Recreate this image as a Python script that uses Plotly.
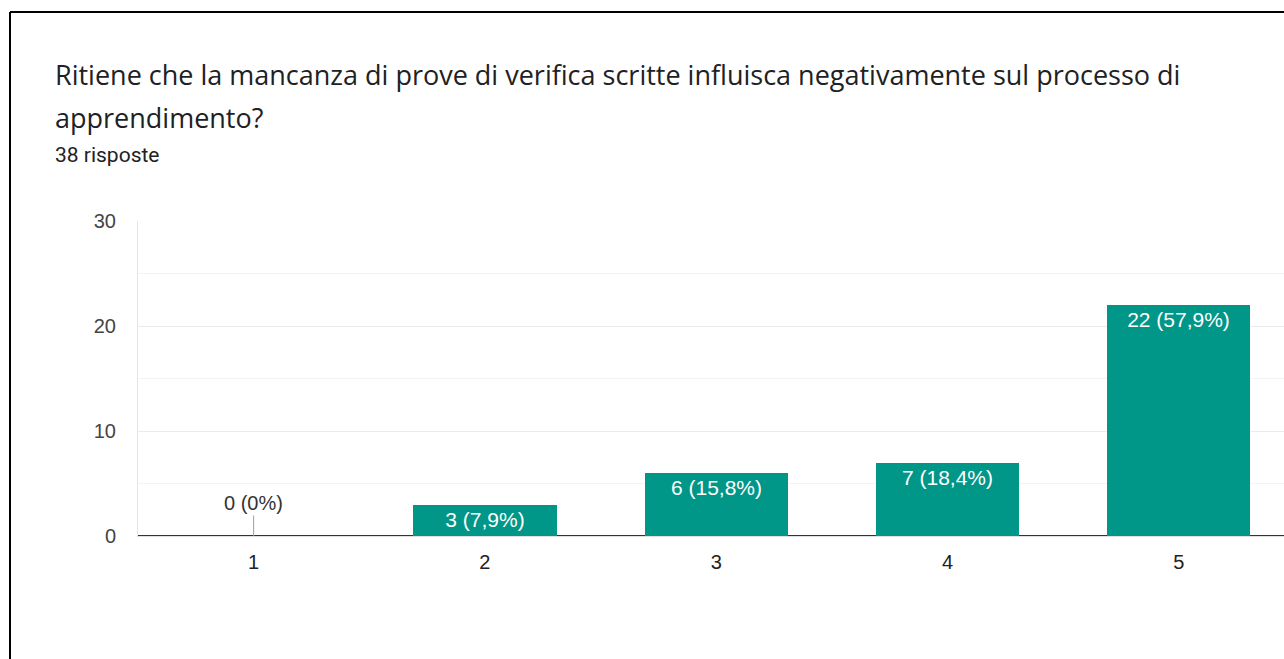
import plotly.graph_objects as go

categories = [1, 2, 3, 4, 5]
counts = [0, 3, 6, 7, 22]
total = 38
title_line1 = "Ritiene che la mancanza di prove di verifica scritte influisca negativamente sul processo di"
title_line2 = "apprendimento?"
subtitle = "38 risposte"
y_ticks = [0, 10, 20, 30]

W, H = 1284, 659
TITLE_FONT = "Open Sans, Roboto, sans-serif"
FONT = "Liberation Sans, Arial, sans-serif"
SUB_FONT = "Roboto, Arial, sans-serif"
BAR = "#009688"


def label(v):
    p = round(v / total * 100, 1)
    s = ("%d" % p) if p == int(p) else ("%.1f" % p).replace(".", ",")
    return f"{v} ({s}%)"


texts = [label(v) if v > 0 else "" for v in counts]

fig = go.Figure()
fig.add_trace(go.Bar(
    x=categories, y=counts, width=0.62,
    marker=dict(color=BAR, line=dict(width=0)),
    text=texts, textposition="inside", insidetextanchor="end",
    textangle=0, constraintext="none",
    textfont=dict(color="white", size=21, family=FONT),
    hoverinfo="skip",
))

annotations = []
for c, v in zip(categories, counts):
    if v == 0:
        annotations.append(dict(
            x=c, y=v, xref="x", yref="y", text=label(v),
            showarrow=True, arrowhead=0, arrowwidth=1, arrowcolor="#9e9e9e",
            ax=0, ay=-33, standoff=0, startstandoff=0,
            font=dict(size=20, color="#333333", family=FONT),
        ))

annotations += [
    dict(x=53 / W, y=1 - 75 / H, xref="paper", yref="paper", xanchor="left", yanchor="middle",
         text=title_line1, showarrow=False, font=dict(size=27, color="#202124", family=TITLE_FONT)),
    dict(x=53 / W, y=1 - 117 / H, xref="paper", yref="paper", xanchor="left", yanchor="middle",
         text=title_line2, showarrow=False, font=dict(size=27, color="#202124", family=TITLE_FONT)),
    dict(x=53 / W, y=1 - 155 / H, xref="paper", yref="paper", xanchor="left", yanchor="middle",
         text=subtitle, showarrow=False, font=dict(size=21, color="#202124", family=SUB_FONT)),
]

shapes = [
    dict(type="line", xref="paper", yref="paper", x0=10 / W, x1=1.0, y0=1 - 12 / H, y1=1 - 12 / H,
         line=dict(color="black", width=2)),
    dict(type="line", xref="paper", yref="paper", x0=10 / W, x1=10 / W, y0=0, y1=1 - 12 / H,
         line=dict(color="black", width=2)),
]

fig.update_layout(
    width=W, height=H, autosize=False,
    margin=dict(l=0, r=0, t=0, b=0, pad=0, autoexpand=False),
    paper_bgcolor="white", plot_bgcolor="white",
    showlegend=False,
    annotations=annotations, shapes=shapes,
    xaxis=dict(domain=[138 / W, 1.0], range=[0.5, 5.455], tickvals=categories,
               ticktext=[str(c) for c in categories], showgrid=False, zeroline=False,
               showline=True, linecolor="#e0e0e0", linewidth=1, mirror=False, automargin=False,
               ticks="", tickfont=dict(size=20, color="#222222", family=FONT), ticklabelstandoff=8),
    yaxis=dict(domain=[(H - 536) / H, (H - 221) / H], range=[0, 30], tickvals=y_ticks,
               showgrid=True, gridcolor="#ebebeb", gridwidth=1, automargin=False,
               minor=dict(dtick=5, showgrid=True, gridcolor="#f3f3f3"),
               zeroline=True, zerolinecolor="#333333", zerolinewidth=2,
               showline=True, linecolor="#e6e6e6", linewidth=1,
               ticks="", tickfont=dict(size=20, color="#444444", family=FONT), ticklabelstandoff=17),
    bargap=0,
)

fig.write_html("out.html", config={"responsive": False, "displayModeBar": False},
               post_script="document.body.style.margin='0px';")
